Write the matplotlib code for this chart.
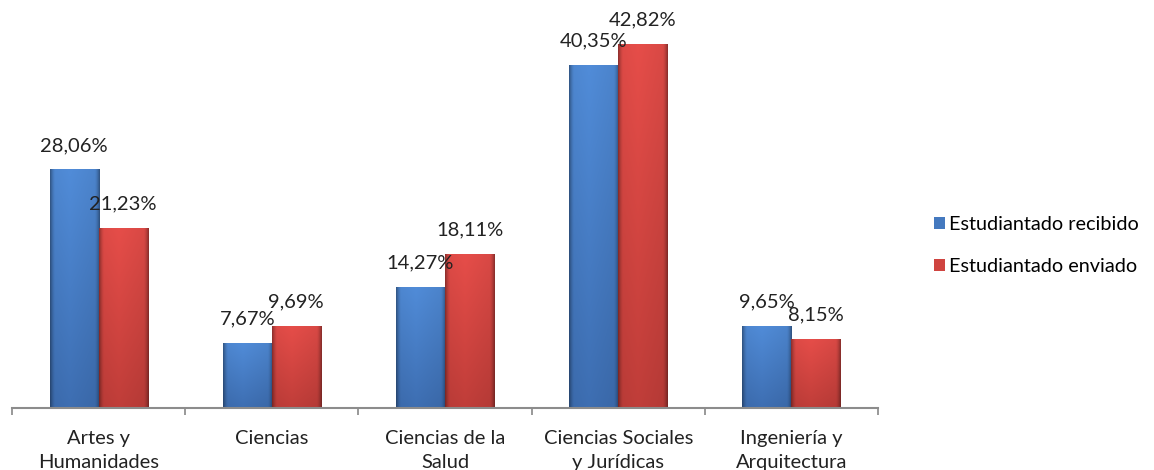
import numpy as np
import matplotlib.pyplot as plt
from matplotlib.colors import to_rgb

categorias = ["Artes y\nHumanidades", "Ciencias", "Ciencias de la\nSalud",
              "Ciencias Sociales\ny Jurídicas", "Ingeniería y\nArquitectura"]
recibido = [28.06, 7.67, 14.27, 40.35, 9.65]
enviado = [21.23, 9.69, 18.11, 42.82, 8.15]
series = ["Estudiantado recibido", "Estudiantado enviado"]

plt.rcParams['font.family'] = ['Lato', 'DejaVu Sans']

fig = plt.figure(figsize=(11.54, 4.70), dpi=100)
ax = fig.add_axes([12 / 1154, 62 / 470, 866 / 1154, 408 / 470])

x = np.arange(len(categorias))
w = 0.283


def shade(top, bottom):
    # cylinder-like shading: dark thin edges, lighter top, darker bottom
    top, bottom = np.array(to_rgb(top)), np.array(to_rgb(bottom))
    v = np.linspace(0, 1, 100)[:, None, None]
    base = top * (1 - v) + bottom * v
    u = np.linspace(-1, 1, 80)
    h = 1 - 0.35 * np.clip((np.abs(u) - 0.8) / 0.2, 0, 1) ** 1.5
    h = h * (1 + 0.06 * (1 - np.abs(u + 0.2)))
    return np.clip(base * h[None, :, None], 0, 1)


b1 = ax.bar(x - w / 2, recibido, w, color="#4479bf", label=series[0])
b2 = ax.bar(x + w / 2, enviado, w, color="#cf4440", label=series[1])

for bars, img in ((b1, shade("#4c84cc", "#3a68a8")), (b2, shade("#d94945", "#b53a36"))):
    for bar in bars:
        x0, y0 = bar.get_x(), bar.get_y()
        im = ax.imshow(img, aspect="auto", zorder=2.1,
                       extent=(x0, x0 + bar.get_width(), y0, y0 + bar.get_height()))
        im.set_clip_path(bar)

for bars, vals in ((b1, recibido), (b2, enviado)):
    for bar, v in zip(bars, vals):
        ax.text(bar.get_x() + bar.get_width() / 2, v + 1.8,
                f"{v:.2f}%".replace(".", ","), ha="center", va="bottom",
                fontsize=14.5, color="#222222")

ax.set_xlim(-0.5, len(categorias) - 0.5)
ax.set_ylim(0, 48)
ax.set_xticks(x)
ax.set_xticklabels(categorias, fontsize=14.5, color="#222222", linespacing=1.45)
ax.set_xticks(np.arange(len(categorias) + 1) - 0.5, minor=True)
ax.tick_params(axis="x", which="major", length=0, pad=16)
ax.tick_params(axis="x", which="minor", length=5, color="#888888", width=1.2)
ax.set_yticks([])
for s in ("top", "right", "left"):
    ax.spines[s].set_visible(False)
ax.spines["bottom"].set_color("#8c8c8c")
ax.spines["bottom"].set_linewidth(1.5)

fig.legend(handles=[b1, b2], labels=series, loc="center left",
           bbox_to_anchor=(934 / 1154, 0.478), frameon=False, fontsize=14.3,
           handlelength=0.55, handleheight=0.55, handletextpad=0.2,
           labelspacing=1.25, borderpad=0, borderaxespad=0)

fig.savefig("out.png", dpi=100)
